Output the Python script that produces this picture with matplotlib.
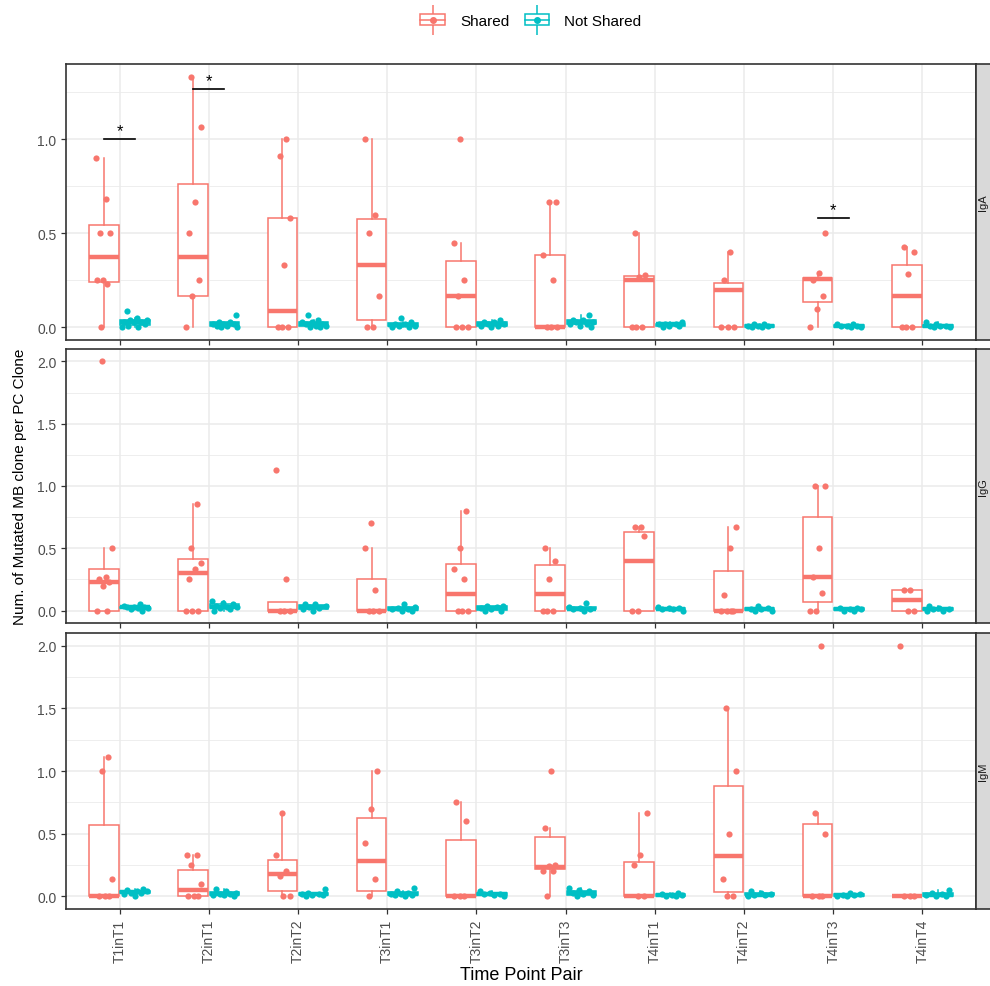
import numpy as np
import matplotlib
matplotlib.use("Agg")
import matplotlib.pyplot as plt
from matplotlib.patches import Rectangle
from matplotlib.lines import Line2D
from matplotlib.legend_handler import HandlerTuple

plt.rcParams["font.family"] = ["Liberation Sans", "DejaVu Sans"]

## categories
pairs = ["T1inT1", "T2inT1", "T2inT2", "T3inT1", "T3inT2",
         "T3inT3", "T4inT1", "T4inT2", "T4inT3", "T4inT4"]
facets = ["IgA", "IgG", "IgM"]

## Shared boxes: (whisker low, q1, median, q3, whisker high)
iga_shared_box = [(0, 0.244, 0.372, 0.543, 0.9), (0, 0.167, 0.375, 0.763, 1.333),
                  (0, 0, 0.09, 0.583, 1.0), (0, 0.04, 0.333, 0.575, 1.0),
                  (0, 0, 0.167, 0.355, 0.45), (0, 0, 0.0, 0.385, 0.667),
                  (0, 0, 0.25, 0.275, 0.5), (0, 0, 0.2, 0.235, 0.4),
                  (0, 0.133, 0.255, 0.265, 0.29), (0, 0, 0.167, 0.333, 0.43)]
igg_shared_box = [(0, 0, 0.229, 0.33, 0.5), (0, 0, 0.3, 0.413, 0.857),
                  (0, 0, 0, 0.07, 0.07), (0, 0, 0, 0.25, 0.5),
                  (0, 0, 0.133, 0.375, 0.8), (0, 0, 0.133, 0.367, 0.5),
                  (0, 0, 0.4, 0.634, 0.667), (0, 0, 0, 0.314, 0.667),
                  (0, 0.067, 0.27, 0.754, 1.0), (0, 0, 0.085, 0.167, 0.167)]
igm_shared_box = [(0, 0, 0, 0.567, 1.11), (0, 0, 0.053, 0.214, 0.333),
                  (0, 0.04, 0.18, 0.294, 0.667), (0, 0.04, 0.286, 0.628, 1.0),
                  (0, 0, 0, 0.45, 0.75), (0, 0.22, 0.235, 0.473, 0.543),
                  (0, 0, 0, 0.275, 0.667), (0, 0.032, 0.32, 0.877, 1.5),
                  (0, 0, 0, 0.58, 0.667), (0, 0, 0, 0, 0)]

## Shared points
iga_shared_pts = [[0.9, 0.68, 0.5, 0.5, 0.25, 0.25, 0.23, 0],
                  [1.333, 1.067, 0.667, 0.5, 0.25, 0.167, 0],
                  [1.0, 0.909, 0.583, 0.333, 0, 0, 0],
                  [1.0, 0.6, 0.5, 0.167, 0, 0],
                  [1.0, 0.45, 0.25, 0.167, 0, 0, 0],
                  [0.667, 0.667, 0.385, 0.25, 0, 0, 0],
                  [0.5, 0.28, 0.27, 0, 0, 0],
                  [0.4, 0.25, 0, 0, 0],
                  [0.5, 0.29, 0.25, 0.167, 0.1, 0],
                  [0.43, 0.4, 0.286, 0, 0, 0]]
igg_shared_pts = [[2.0, 0.5, 0.27, 0.25, 0.23, 0.2, 0, 0],
                  [0.857, 0.5, 0.385, 0.333, 0.25, 0, 0, 0],
                  [1.125, 0.25, 0, 0, 0],
                  [0.7, 0.5, 0.167, 0, 0, 0],
                  [0.8, 0.5, 0.333, 0.25, 0, 0, 0],
                  [0.5, 0.4, 0.25, 0, 0, 0],
                  [0.667, 0.667, 0.6, 0, 0],
                  [0.667, 0.5, 0.125, 0, 0, 0, 0],
                  [1.0, 1.0, 0.5, 0.27, 0.143, 0, 0],
                  [0.167, 0.167, 0, 0]]
igm_shared_pts = [[1.111, 1.0, 0.143, 0, 0, 0],
                  [0.333, 0.333, 0.25, 0.1, 0, 0, 0],
                  [0.667, 0.333, 0.2, 0.167, 0, 0],
                  [1.0, 0.7, 0.429, 0.143, 0],
                  [0.75, 0.6, 0, 0, 0],
                  [1.0, 0.543, 0.25, 0.24, 0.2, 0.2, 0],
                  [0.667, 0.333, 0.25, 0, 0],
                  [1.5, 1.0, 0.5, 0.143, 0, 0],
                  [2.0, 0.667, 0.5, 0, 0, 0],
                  [2.0, 0, 0, 0]]

## Not Shared points
iga_ns_pts = [[0.0, 0.0, 0.01, 0.02, 0.03, 0.03, 0.03, 0.04, 0.04, 0.05, 0.09],
              [0.0, 0.0, 0.01, 0.01, 0.02, 0.02, 0.02, 0.03, 0.03, 0.067],
              [0.0, 0.0, 0.01, 0.01, 0.02, 0.02, 0.03, 0.03, 0.04, 0.067],
              [0.0, 0.0, 0.01, 0.01, 0.02, 0.02, 0.03, 0.05],
              [0.0, 0.01, 0.01, 0.02, 0.02, 0.03, 0.03, 0.04],
              [0.0, 0.01, 0.02, 0.02, 0.03, 0.03, 0.04, 0.04, 0.067],
              [0.0, 0.01, 0.01, 0.02, 0.02, 0.02, 0.03],
              [0.0, 0.0, 0.01, 0.01, 0.01, 0.02, 0.02],
              [0.0, 0.0, 0.01, 0.01, 0.01, 0.02, 0.02],
              [0.0, 0.0, 0.01, 0.01, 0.01, 0.02, 0.03]]
igg_ns_pts = [[0.0, 0.01, 0.02, 0.02, 0.03, 0.03, 0.03, 0.04, 0.05],
              [0.0, 0.01, 0.02, 0.03, 0.03, 0.04, 0.05, 0.06, 0.08],
              [0.0, 0.01, 0.02, 0.03, 0.04, 0.05, 0.05],
              [0.0, 0.0, 0.01, 0.01, 0.02, 0.03, 0.05],
              [0.0, 0.0, 0.01, 0.02, 0.03, 0.04, 0.04],
              [0.0, 0.01, 0.01, 0.02, 0.03, 0.06],
              [0.0, 0.01, 0.01, 0.02, 0.02, 0.03],
              [0.0, 0.0, 0.01, 0.01, 0.02, 0.04],
              [0.0, 0.0, 0.01, 0.01, 0.02, 0.02],
              [0.0, 0.0, 0.01, 0.01, 0.02, 0.04]]
igm_ns_pts = [[0.0, 0.02, 0.03, 0.03, 0.04, 0.04, 0.05, 0.06],
              [0.0, 0.01, 0.01, 0.02, 0.02, 0.03, 0.04, 0.06],
              [0.0, 0.01, 0.01, 0.02, 0.02, 0.03, 0.06],
              [0.0, 0.01, 0.01, 0.02, 0.02, 0.03, 0.04, 0.07],
              [0.0, 0.01, 0.02, 0.02, 0.03, 0.04],
              [0.0, 0.01, 0.02, 0.03, 0.04, 0.05, 0.07],
              [0.0, 0.0, 0.01, 0.01, 0.02, 0.03],
              [0.0, 0.01, 0.01, 0.02, 0.03, 0.04],
              [0.0, 0.0, 0.01, 0.01, 0.02, 0.03],
              [0.0, 0.0, 0.01, 0.02, 0.03, 0.05]]

## significance bars (IgA only)
sig_pairs = ["T1inT1", "T2inT1", "T4inT3"]
sig_heights = [1.0, 1.267, 0.582]

shared_boxes = [iga_shared_box, igg_shared_box, igm_shared_box]
shared_pts = [iga_shared_pts, igg_shared_pts, igm_shared_pts]
ns_pts = [iga_ns_pts, igg_ns_pts, igm_ns_pts]

col_sh = "#F8766D"
col_ns = "#00BFC4"
dodge = 0.175
bw = 0.33


def jitter(n, k, spread):
    # deterministic spread of points across the box
    return ((np.arange(n) * 0.618 + k * 0.37) % 1 - 0.5) * 2 * spread


def draw_boxes(ax, stats, pos, color):
    bp = ax.bxp(stats, positions=pos, widths=bw, showfliers=False, showcaps=False,
                patch_artist=True,
                boxprops=dict(facecolor="white", edgecolor=color, linewidth=1.1),
                whiskerprops=dict(color=color, linewidth=1.1),
                medianprops=dict(color=color, linewidth=3.2, solid_capstyle="butt"),
                manage_ticks=False, zorder=2)
    return bp


W, H = 990, 987
fig = plt.figure(figsize=(W / 100, H / 100), dpi=100)

panel_px = [(65, 341), (350, 624), (634, 910)]
ylims = [(-0.0667, 1.40), (-0.1, 2.1), (-0.1, 2.1)]
yticks = [[0, 0.5, 1.0], [0, 0.5, 1.0, 1.5, 2.0], [0, 0.5, 1.0, 1.5, 2.0]]
x = np.arange(len(pairs))

for f, fac in enumerate(facets):
    top, bot = panel_px[f]
    ax = fig.add_axes([66 / W, 1 - bot / H, (976 - 66) / W, (bot - top) / H])
    ax.set_xlim(-0.6, len(pairs) - 0.4)
    ax.set_ylim(*ylims[f])

    ax.set_yticks(yticks[f])
    ax.set_yticklabels(["%.1f" % v for v in yticks[f]])
    ax.set_yticks([v + 0.25 for v in yticks[f][:-1]] + ([1.25] if f == 0 else []), minor=True)
    ax.set_xticks(x)
    if f == 2:
        ax.set_xticklabels(pairs, rotation=90, fontsize=10, color="#4D4D4D")
    else:
        ax.set_xticklabels([])
        ax.tick_params(axis="x", length=0)
    ax.tick_params(axis="y", labelsize=10, labelcolor="#4D4D4D", length=3.5,
                   color="#333333", width=0.9)
    ax.tick_params(axis="x", length=3.5, color="#333333", width=0.9)
    ax.tick_params(which="minor", length=0)
    ax.grid(True, which="major", color="#EBEBEB", linewidth=1.1, zorder=0)
    ax.grid(True, which="minor", axis="y", color="#EBEBEB", linewidth=0.6, zorder=0)
    ax.set_axisbelow(True)
    for s in ax.spines.values():
        s.set_color("#333333")
        s.set_linewidth(1.2)

    # Shared boxes
    sh_stats = [dict(whislo=b[0], q1=b[1], med=b[2], q3=b[3], whishi=b[4])
                for b in shared_boxes[f]]
    draw_boxes(ax, sh_stats, x - dodge, col_sh)

    # Not Shared boxes computed from points
    ns_stats = []
    for vals in ns_pts[f]:
        v = np.array(vals)
        q1, med, q3 = np.percentile(v, [25, 50, 75])
        iqr = q3 - q1
        lo = v[v >= q1 - 1.5 * iqr].min()
        hi = v[v <= q3 + 1.5 * iqr].max()
        ns_stats.append(dict(whislo=lo, q1=q1, med=med, q3=q3, whishi=hi))
    draw_boxes(ax, ns_stats, x + dodge, col_ns)

    for i in range(len(pairs)):
        ys = np.array(shared_pts[f][i])
        ax.scatter(x[i] - dodge + jitter(len(ys), i + f, 0.09), ys, s=20,
                   color=col_sh, linewidths=0, zorder=3)
        yn = np.array(ns_pts[f][i])
        ax.scatter(x[i] + dodge + jitter(len(yn), i + 2 * f, 0.15), yn, s=20,
                   color=col_ns, linewidths=0, zorder=3)

    if f == 0:
        for p, h in zip(sig_pairs, sig_heights):
            k = pairs.index(p)
            ax.plot([k - dodge, k + dodge], [h, h], color="black", linewidth=1.2, zorder=4)
            ax.text(k, h + 0.005, "*", ha="center", va="bottom", fontsize=12,
                    color="black", zorder=4)

    # facet strip on the right (cut by the image edge, as in the source)
    sx = fig.add_axes([976 / W, 1 - bot / H, 14 / W, (bot - top) / H])
    sx.set_xticks([])
    sx.set_yticks([])
    sx.set_facecolor("#D9D9D9")
    for s in sx.spines.values():
        s.set_color("#333333")
        s.set_linewidth(1.2)
    sx.spines["right"].set_visible(False)
    sx.text(0.5, 0.5, fac, rotation=90, ha="center", va="center", fontsize=8,
            color="#1A1A1A", transform=sx.transAxes)

fig.text(20 / W, 1 - 487 / H, "Num. of Mutated MB clone per PC Clone", rotation=90,
         ha="center", va="center", fontsize=11, color="black")
fig.text(521 / W, 1 - 976 / H, "Time Point Pair", ha="center", va="center",
         fontsize=13, color="black")

# legend with boxplot-style keys
handles = []
for c in [col_sh, col_ns]:
    whisk = Line2D([], [], color=c, marker="|", markersize=22, linestyle="None",
                   markeredgewidth=1.1)
    box = Rectangle((0, 0), 1, 1, facecolor="white", edgecolor=c, linewidth=1.1)
    med = Line2D([], [], color=c, linewidth=1.1)
    dot = Line2D([], [], color=c, marker="o", markersize=4, linestyle="None")
    handles.append((whisk, box, med, dot))
fig.legend(handles, ["Shared", "Not Shared"], loc="center",
           bbox_to_anchor=(531 / W, 1 - 22 / H), ncol=2, frameon=False, fontsize=11,
           handlelength=1.6, handletextpad=1.0, columnspacing=1.0,
           handler_map={tuple: HandlerTuple(ndivide=1)})

plt.savefig("out.png", dpi=100)
plt.close("all")
